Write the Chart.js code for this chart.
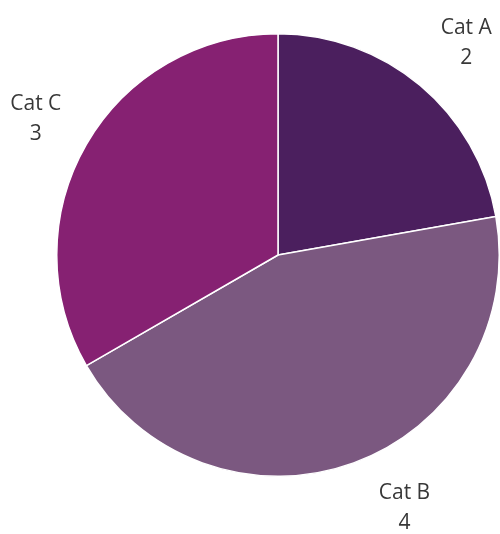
<!DOCTYPE html>
<html>
<head>
<meta charset="utf-8">
<script src="https://cdn.jsdelivr.net/npm/chart.js@4/dist/chart.umd.min.js"></script>
<style>
  html, body { margin: 0; padding: 0; background: #fff; }
</style>
</head>
<body>
<canvas id="chart" width="500" height="534"></canvas>
<script>
// data
const categories = ["Cat A", "Cat B", "Cat C"];
const values = [2, 4, 3];
const colors = ["#4b1f5e", "#7b5880", "#862172"];

// where each label sits, as a distance from the centre and a nudge
const labelRadius = 282;
const labelNudge = [[7, 4], [30, -12], [2, 5]];

const pieLabels = {
    id: "pieLabels",
    afterDatasetsDraw(chart) {
        const ctx = chart.ctx;
        const meta = chart.getDatasetMeta(0);
        ctx.save();
        ctx.font = "21px 'Open Sans'";
        ctx.fillStyle = "#383838";
        ctx.textAlign = "center";
        ctx.textBaseline = "middle";
        meta.data.forEach((arc, i) => {
            const p = arc.getProps(["x", "y", "startAngle", "endAngle"], true);
            const mid = (p.startAngle + p.endAngle) / 2;
            const x = p.x + Math.cos(mid) * labelRadius + labelNudge[i][0];
            const y = p.y + Math.sin(mid) * labelRadius + labelNudge[i][1];
            ctx.fillText(categories[i], x, y - 15);
            ctx.fillText(String(values[i]), x, y + 15);
        });
        ctx.restore();
    }
};

new Chart(document.querySelector("#chart"), {
    type: "pie",
    data: {
        labels: categories,
        datasets: [{
            data: values,
            backgroundColor: colors,
            borderColor: "#ffffff",
            borderWidth: 1.5
        }]
    },
    options: {
        responsive: false,
        animation: false,
        layout: { padding: { left: 56, right: 0, top: 33, bottom: 57 } },
        plugins: {
            legend: { display: false },
            tooltip: { enabled: false }
        }
    },
    plugins: [pieLabels]
});
</script>
</body>
</html>
